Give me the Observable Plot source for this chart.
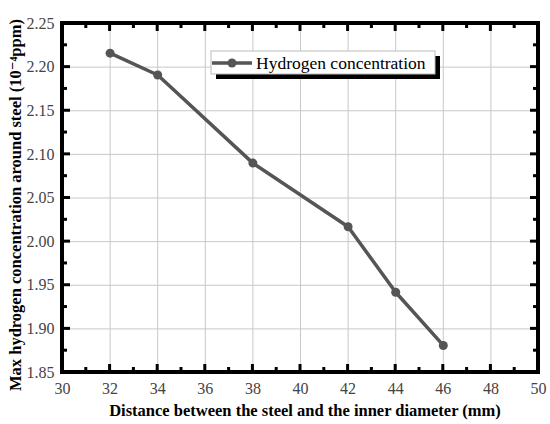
<!DOCTYPE html>
<html><head><meta charset="utf-8">
<script src="https://cdn.jsdelivr.net/npm/d3@7"></script>
<script src="https://cdn.jsdelivr.net/npm/@observablehq/plot@0.6"></script>
<style>
body{margin:0;background:#fff;}
#wrap{position:relative;width:550px;height:424px;}
</style>
</head><body><div id="wrap"></div>
<script>
const distance = [32, 34, 38, 42, 44, 46];
const concentration = [2.216, 2.191, 2.090, 2.017, 1.942, 1.881];
const xMajor = [30, 32, 34, 36, 38, 40, 42, 44, 46, 48, 50];
const xMinor = [31, 33, 35, 37, 39, 41, 43, 45, 47, 49];
const yMajor = [1.85, 1.90, 1.95, 2.00, 2.05, 2.10, 2.15, 2.20, 2.25];
const yMinor = [1.875, 1.925, 1.975, 2.025, 2.075, 2.125, 2.175, 2.225];
const seriesName = "Hydrogen concentration";
const xTitle = "Distance between the steel and the inner diameter (mm)";
const yTitle = "Max hydrogen concentration around steel (10\u207B\u2074ppm)";

const data = distance.map((d, i) => ({x: d, y: concentration[i]}));
const lineColor = "#555555";
const serif = "'Liberation Serif','DejaVu Serif',serif";

const W = 550, H = 424, mL = 62, mR = 12, mT = 23, mB = 52;

const chart = Plot.plot({
  width: W, height: H,
  marginLeft: mL, marginRight: mR, marginTop: mT, marginBottom: mB,
  style: {fontFamily: serif, fontSize: "16px", background: "#fff"},
  x: {domain: [30, 50], label: null},
  y: {domain: [1.85, 2.25], label: null},
  marks: [
    Plot.gridX(xMajor.slice(1, -1), {stroke: "#c8c8c8", strokeOpacity: 1, strokeWidth: 1}),
    Plot.gridY(yMajor.slice(1, -1), {stroke: "#c8c8c8", strokeOpacity: 1, strokeWidth: 1}),
    Plot.axisX(xMajor, {anchor: "bottom", tickSize: 0, tickPadding: 10, fill: "#444", label: null, fontSize: 16, tickFormat: d3.format("d")}),
    Plot.axisY(yMajor, {anchor: "left", tickSize: 0, tickPadding: 8, fill: "#444", label: null, fontSize: 16, tickFormat: d3.format(".2f")}),
    Plot.line(data, {x: "x", y: "y", stroke: lineColor, strokeWidth: 3.5}),
    Plot.dot(data, {x: "x", y: "y", fill: lineColor, r: 4.5})
  ]
});

const svg = d3.select(chart);
const sx = chart.scale("x"), sy = chart.scale("y");
const x0 = sx.apply(30), x1 = sx.apply(50), y0 = sy.apply(1.85), y1 = sy.apply(2.25);

// frame and inward ticks
const tg = svg.append("g");
tg.append("rect").attr("x", x0).attr("y", y1).attr("width", x1 - x0).attr("height", y0 - y1)
  .attr("fill", "none").attr("stroke", "#000").attr("stroke-width", 4);
function seg(a, b, c, d) {
  tg.append("line").attr("x1", a).attr("y1", b).attr("x2", c).attr("y2", d)
    .attr("stroke", "#000").attr("stroke-width", 3);
}
xMajor.forEach(v => { const p = sx.apply(v); seg(p, y0, p, y0 - 8); seg(p, y1, p, y1 + 8); });
xMinor.forEach(v => { const p = sx.apply(v); seg(p, y0, p, y0 - 5); seg(p, y1, p, y1 + 5); });
yMajor.forEach(v => { const p = sy.apply(v); seg(x0, p, x0 + 8, p); seg(x1, p, x1 - 8, p); });
yMinor.forEach(v => { const p = sy.apply(v); seg(x0, p, x0 + 5, p); seg(x1, p, x1 - 5, p); });

// axis titles
svg.append("text")
  .attr("x", 305).attr("y", 416)
  .attr("text-anchor", "middle")
  .style("font-family", serif).style("font-weight", "bold").style("font-size", "16.5px").style("fill", "#000")
  .text(xTitle);
svg.append("text")
  .attr("transform", "translate(21,205) rotate(-90)")
  .attr("text-anchor", "middle")
  .style("font-family", serif).style("font-weight", "bold").style("font-size", "16.5px").style("fill", "#000")
  .text(yTitle);

// legend
const lg = svg.append("g");
lg.append("rect").attr("x", 216).attr("y", 56).attr("width", 224).attr("height", 23).attr("fill", "#000");
lg.append("rect").attr("x", 211).attr("y", 51).attr("width", 224).attr("height", 23).attr("fill", "#fff").attr("stroke", "#bbb").attr("stroke-width", 1);
lg.append("line").attr("x1", 212).attr("x2", 252).attr("y1", 63).attr("y2", 63).attr("stroke", lineColor).attr("stroke-width", 3.5);
lg.append("circle").attr("cx", 232).attr("cy", 63).attr("r", 4.5).attr("fill", lineColor);
lg.append("text").attr("x", 256).attr("y", 69).attr("text-anchor", "start")
  .style("font-family", serif).style("font-size", "17.5px").style("fill", "#000")
  .text(seriesName);

document.getElementById("wrap").appendChild(chart);
</script>
</body></html>
